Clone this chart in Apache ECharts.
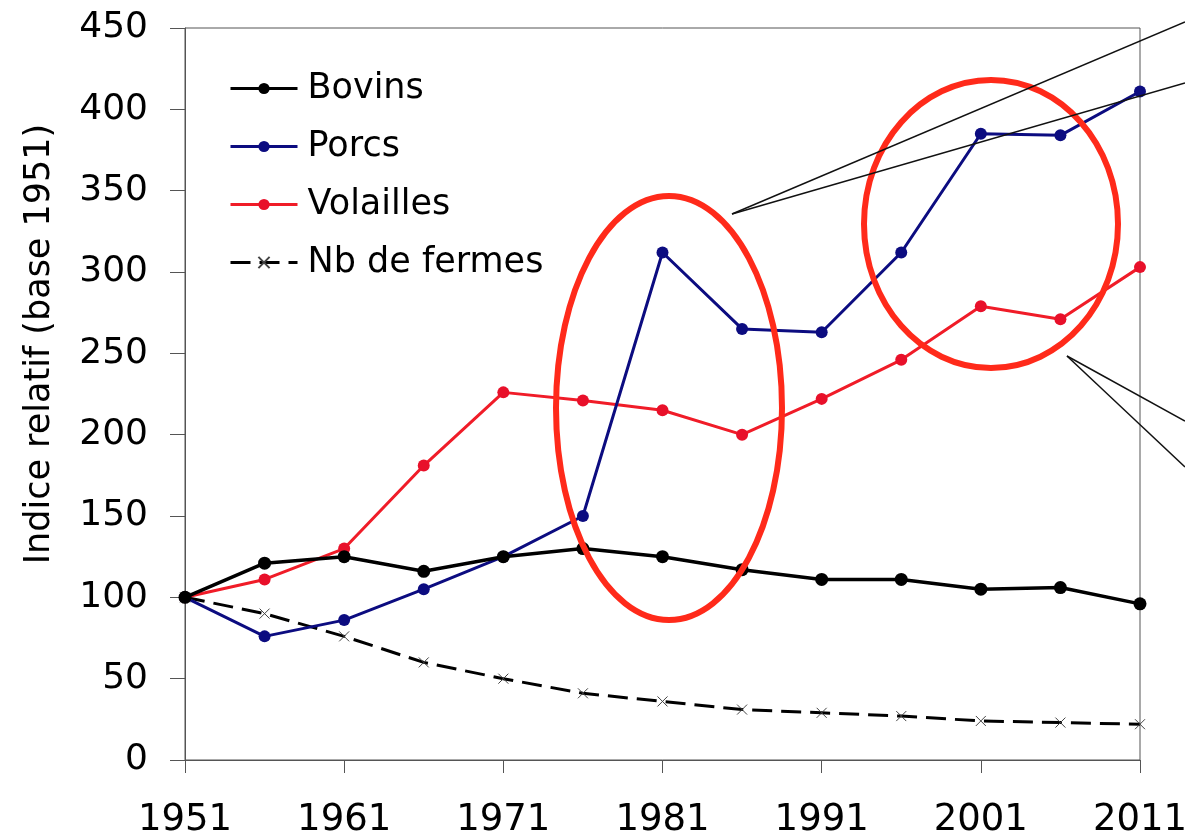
<!DOCTYPE html>
<html lang="fr">
<head>
  <meta charset="UTF-8">
  <script src="https://cdn.jsdelivr.net/npm/echarts@6/dist/echarts.min.js"></script>
  <title>Indice relatif base 1951</title>
  <style>
    html, body { margin: 0; padding: 0; background: #fff; }
  </style>
</head>
<body>
<div id="chart" style="width: 1185px; height: 840px;"></div>
<script type="text/javascript">
  // values, one point every 5 years
  const years     = ['1951', '1956', '1961', '1966', '1971', '1976', '1981', '1986', '1991', '1996', '2001', '2006', '2011'];
  const bovins    = [100, 121, 125, 116, 125, 130, 125, 117, 111, 111, 105, 106, 96];
  const porcs     = [100, 76, 86, 105, 125, 150, 312, 265, 263, 312, 385, 384, 411];
  const volailles = [100, 111, 130, 181, 226, 221, 215, 200, 222, 246, 279, 271, 303];
  const fermes    = [100, 90, 76, 60, 50, 41, 36, 31, 29, 27, 24, 23, 22];
  const seriesNames = ['Bovins', 'Porcs', 'Volailles', 'Nb de fermes'];
  const yTitle = 'Indice relatif (base 1951)';

  const FONT = 'DejaVu Sans';
  const AXIS_COLOR = '#555';

  function drawChart() {
    let chartDom = document.getElementById('chart');
    let myChart = echarts.init(chartDom, null, {renderer: 'canvas'});
    let option = {
      animation: false,
      backgroundColor: '#fff',
      grid: {
        left: 185,
        right: 45,
        top: 28,
        bottom: 80,
        show: true,
        borderColor: AXIS_COLOR,
        borderWidth: 1,
        outerBoundsMode: 'none'
      },
      legend: {
        orient: 'vertical',
        left: 229,
        top: 71,
        padding: 0,
        itemWidth: 67,
        itemHeight: 14,
        itemGap: 23,
        data: seriesNames,
        lineStyle: {width: 3},
        textStyle: {fontFamily: FONT, fontSize: 35, color: '#000', padding: [0, 0, 0, 5]}
      },
      xAxis: {
        type: 'category',
        data: years,
        boundaryGap: false,
        axisLine: {lineStyle: {color: AXIS_COLOR, width: 1}},
        axisTick: {show: true, interval: 1, length: 13, lineStyle: {color: AXIS_COLOR}},
        axisLabel: {
          interval: 1,
          margin: 42,
          fontFamily: FONT,
          fontSize: 37,
          color: '#000'
        },
        splitLine: {show: false}
      },
      yAxis: {
        type: 'value',
        min: 0,
        max: 450,
        interval: 50,
        axisLine: {show: true, lineStyle: {color: AXIS_COLOR, width: 1}},
        axisTick: {show: true, length: 15, lineStyle: {color: AXIS_COLOR}},
        axisLabel: {
          margin: 37,
          fontFamily: FONT,
          fontSize: 36,
          color: '#000'
        },
        splitLine: {show: false}
      },
      series: [
        {
          name: 'Bovins',
          type: 'line',
          data: bovins,
          symbol: 'circle',
          symbolSize: 13,
          itemStyle: {color: '#000'},
          lineStyle: {color: '#000', width: 3.5},
          z: 4
        },
        {
          name: 'Porcs',
          type: 'line',
          data: porcs,
          symbol: 'circle',
          symbolSize: 12,
          itemStyle: {color: '#0c0c80'},
          lineStyle: {color: '#0c0c80', width: 3},
          z: 3
        },
        {
          name: 'Volailles',
          type: 'line',
          data: volailles,
          symbol: 'circle',
          symbolSize: 12,
          itemStyle: {color: '#e8102a'},
          lineStyle: {color: '#f01c28', width: 3},
          z: 2
        },
        {
          name: 'Nb de fermes',
          type: 'line',
          data: fermes,
          symbol: 'path://M0,0L10,10M10,0L0,10',
          symbolSize: 10,
          itemStyle: {color: 'none', borderColor: '#444', borderWidth: 1},
          lineStyle: {color: '#000', width: 3, type: [20, 9]},
          z: 1
        }
      ],
      graphic: [
        {
          type: 'text',
          x: 40,
          y: 344,
          rotation: Math.PI / 2,
          style: {
            text: yTitle,
            fontFamily: FONT,
            fontSize: 35,
            fill: '#000',
            align: 'center',
            verticalAlign: 'middle'
          }
        },
        // annotation: red ellipses
        {
          type: 'ellipse',
          z: 100,
          shape: {cx: 669, cy: 408, rx: 113, ry: 212},
          style: {fill: 'none', stroke: '#ff2a1a', lineWidth: 6}
        },
        {
          type: 'ellipse',
          z: 100,
          shape: {cx: 991, cy: 224, rx: 127, ry: 144},
          style: {fill: 'none', stroke: '#ff2a1a', lineWidth: 6}
        },
        // annotation: pointer lines
        {type: 'line', z: 100, shape: {x1: 732, y1: 214, x2: 1185, y2: 22}, style: {stroke: '#111', lineWidth: 1.5}},
        {type: 'line', z: 100, shape: {x1: 732, y1: 214, x2: 1185, y2: 83}, style: {stroke: '#111', lineWidth: 1.5}},
        {type: 'line', z: 100, shape: {x1: 1067, y1: 356, x2: 1185, y2: 421}, style: {stroke: '#111', lineWidth: 1.5}},
        {type: 'line', z: 100, shape: {x1: 1067, y1: 356, x2: 1185, y2: 467}, style: {stroke: '#111', lineWidth: 1.5}}
      ]
    };
    myChart.setOption(option);
  }

  drawChart();
</script>
</body>
</html>
